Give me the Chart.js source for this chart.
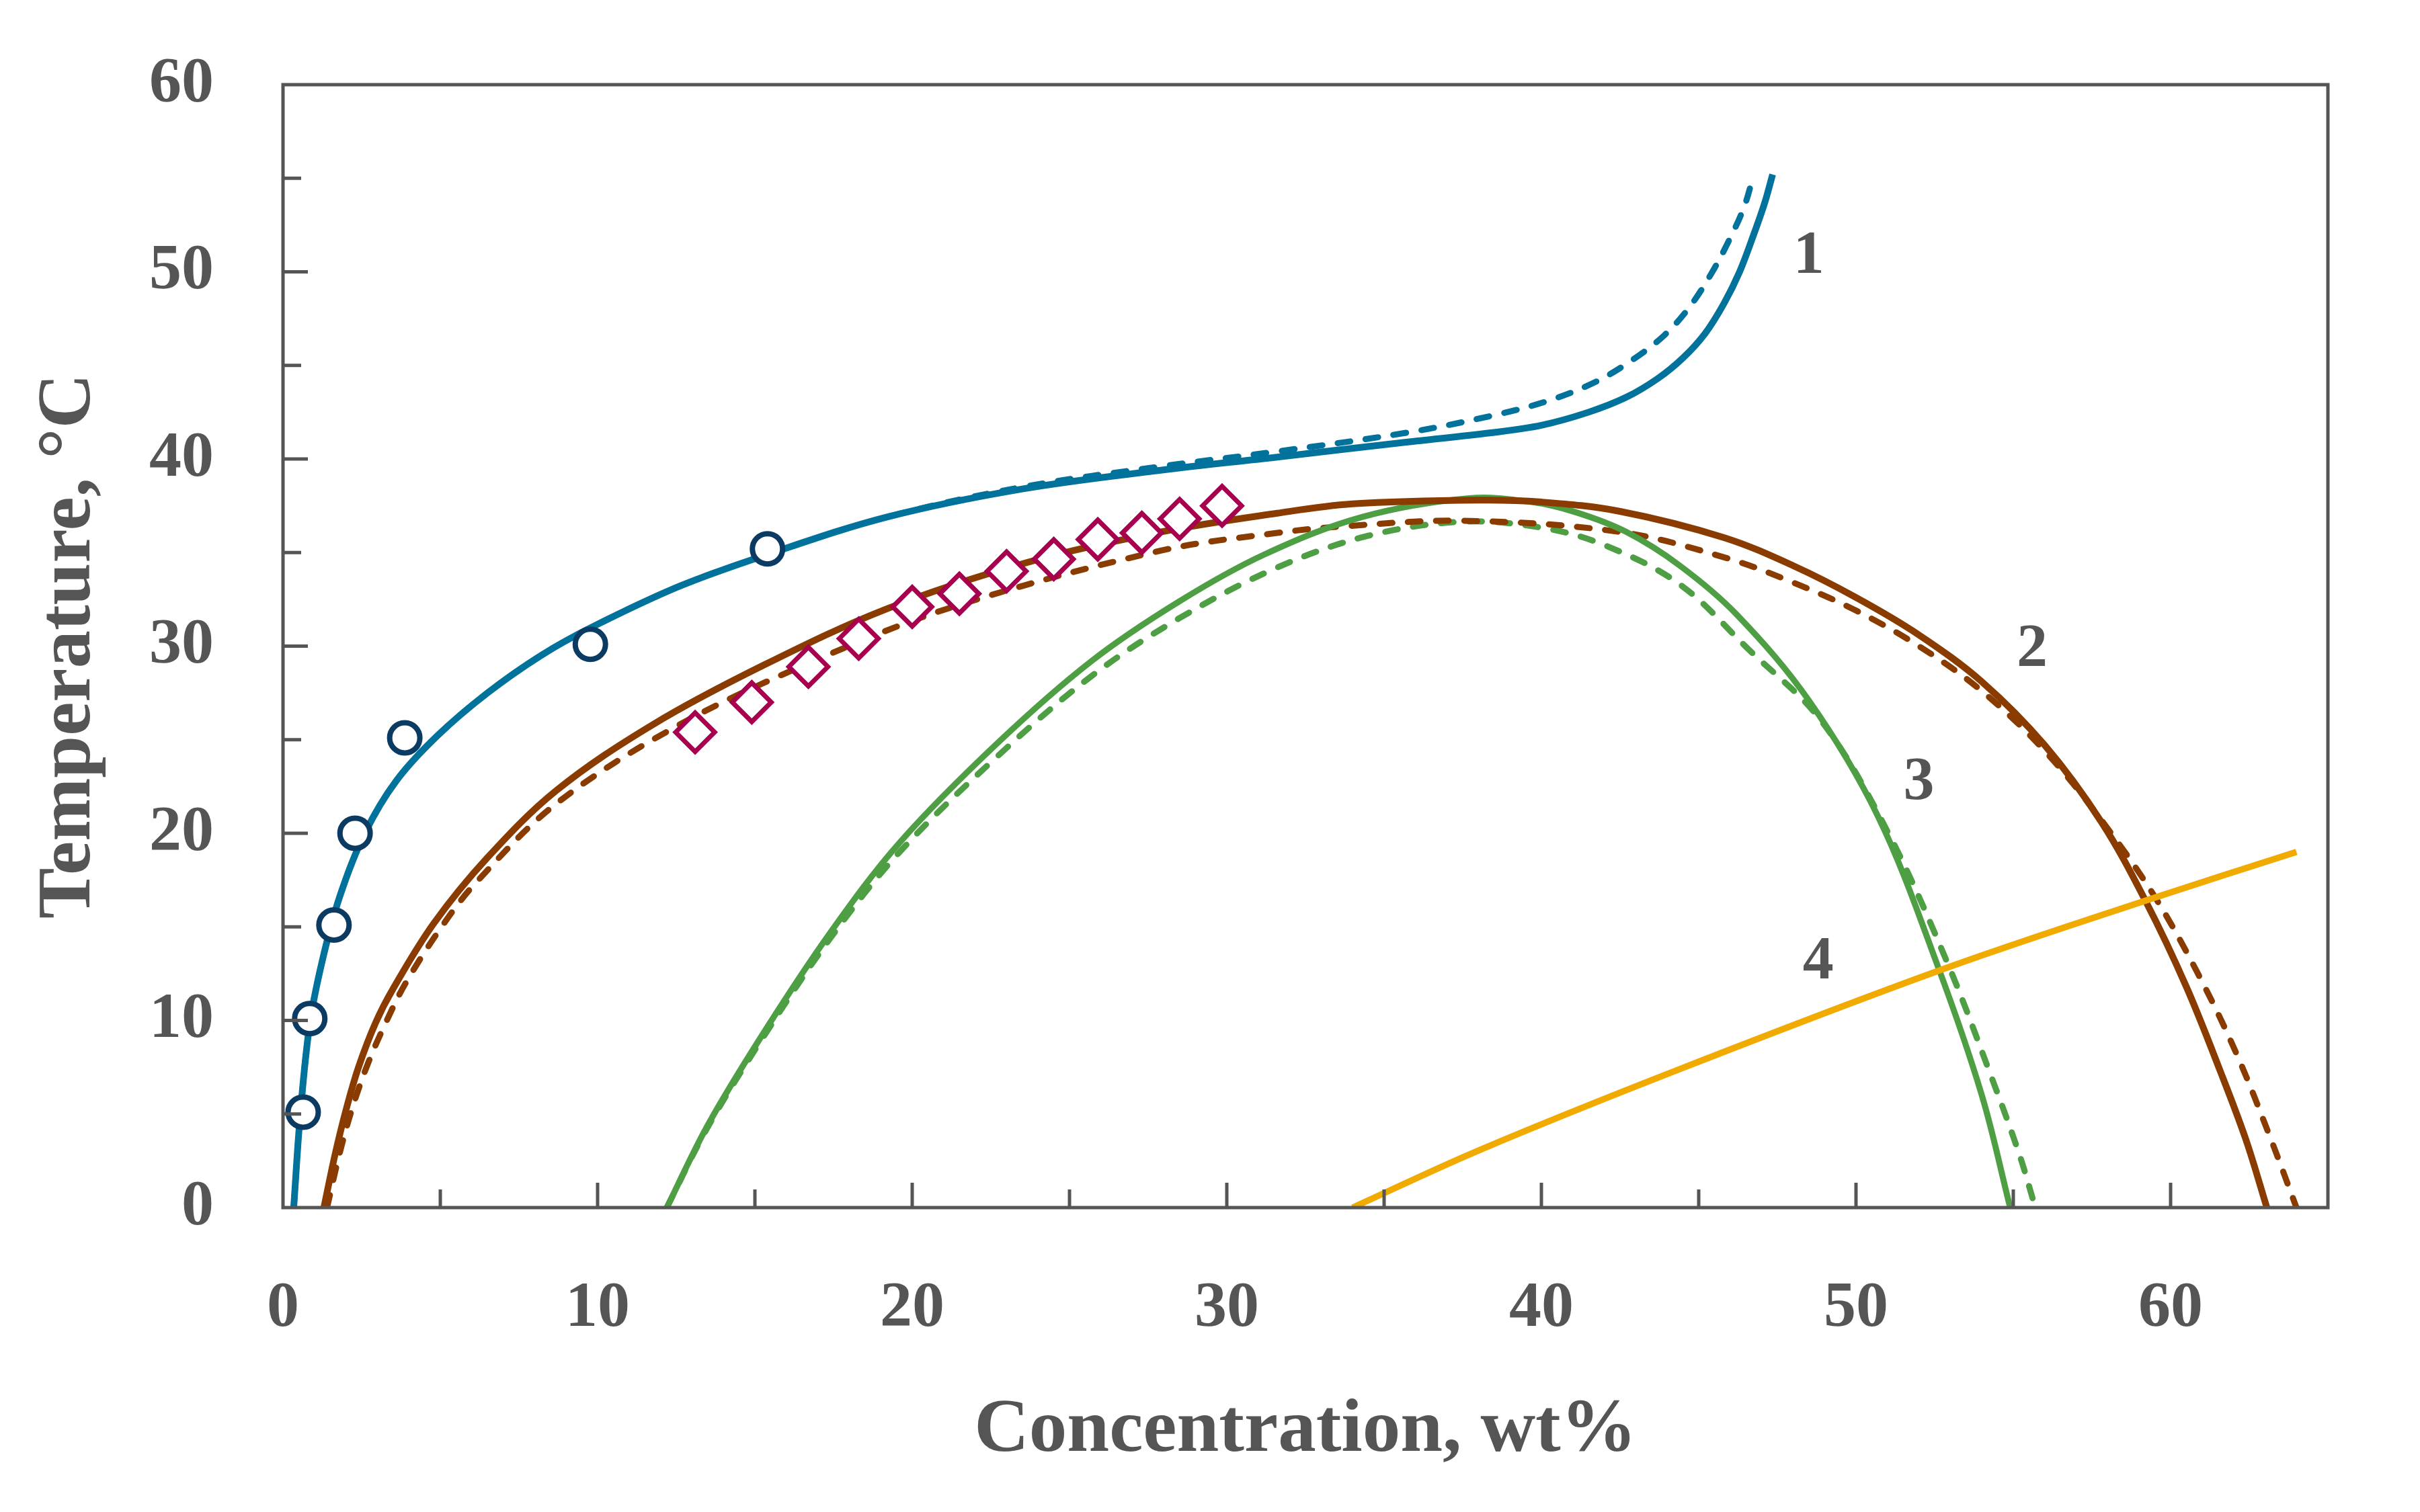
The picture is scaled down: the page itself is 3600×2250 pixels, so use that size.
<!DOCTYPE html>
<html>
<head>
<meta charset="utf-8">
<script src="https://cdn.jsdelivr.net/npm/chart.js@4.4.1/dist/chart.umd.min.js"></script>
<style>
  html, body { margin: 0; padding: 0; background: #fff; }
  canvas { display: block; }
</style>
</head>
<body>
<canvas id="chart" width="3600" height="2250"></canvas>
<script>
// 坐标轴刻度
const xTicks = [0, 10, 20, 30, 40, 50, 60];
const yTicks = [0, 10, 20, 30, 40, 50, 60];
const xTickMarks = [5, 10, 15, 20, 25, 30, 35, 40, 45, 50, 55, 60];
const yTickMarks = [5, 10, 15, 20, 25, 30, 35, 40, 45, 50, 55];

// 实验点
const circleX = [0.64, 0.85, 1.62, 2.29, 3.87, 9.77, 15.4];
const circleY = [5.1, 10.1, 15.1, 20.0, 25.1, 30.1, 35.2];
const diamondX = [13.1, 14.9, 16.7, 18.3, 20.0, 21.5, 23.0, 24.5, 25.9, 27.3, 28.5, 29.85];
const diamondY = [25.4, 27.0, 28.9, 30.4, 32.1, 32.8, 34.0, 34.65, 35.7, 36.05, 36.8, 37.5];

// 曲线 1
const curve1Solid = [[0.34,0],[0.55,5],[0.85,9.8],[1.25,13.2],[1.8,16.6],[2.6,20.0],[3.6,22.8],[4.9,25.2],[6.5,27.5],[8.2,29.5],[9.8,31.0],[12.6,33.2],[15.4,34.9],[19.2,36.9],[23.5,38.4],[27.9,39.4],[31.6,40.1],[35.7,40.9],[38.4,41.4],[40.0,41.8],[41.5,42.5],[42.7,43.3],[43.7,44.3],[44.5,45.4],[45.2,46.7],[45.8,48.3],[46.3,50.0],[46.75,52.0],[47.1,53.7],[47.35,55.2]];
const curve1Dash = [[0.34,0],[0.55,5],[0.85,9.8],[1.25,13.2],[1.8,16.6],[2.6,20.0],[3.6,22.8],[4.9,25.2],[6.5,27.5],[8.2,29.5],[9.8,31.0],[12.6,33.2],[15.4,34.9],[19.2,36.9],[23.5,38.5],[27.9,39.6],[31.6,40.4],[35.7,41.4],[38.4,42.3],[40.2,43.1],[41.7,44.1],[42.9,45.3],[43.9,46.6],[44.7,48.1],[45.4,49.9],[46.0,51.8],[46.45,53.5],[46.75,55.2]];
// 曲线 2
const curve2Solid = [[1.3,0],[1.65,2.8],[2.0,5.2],[2.4,7.5],[2.95,9.9],[3.5,11.7],[4.8,15.2],[6.5,18.7],[8.7,22.3],[11.75,25.8],[15.3,29.0],[19.2,32.0],[23.5,34.4],[27.9,36.1],[31.6,37.1],[34.0,37.6],[38.0,37.8],[40.0,37.7],[42.5,37.2],[45.8,35.8],[48.0,34.3],[50.0,32.6],[52.0,30.6],[54.0,28.1],[56.0,24.7],[57.8,20.6],[59.2,16.4],[60.5,11.8],[61.6,7.2],[62.4,3.6],[63.06,0]];
const curve2Dash = [[1.4,0],[1.8,2.9],[2.2,5.3],[2.7,7.7],[3.3,10.0],[3.9,12.0],[5.0,14.9],[6.1,17.3],[8.7,21.6],[12.6,25.8],[17.0,29.3],[21.3,32.1],[27.9,35.1],[31.6,36.05],[33.7,36.4],[37.5,36.7],[42.5,36.1],[45.9,34.7],[48.0,33.4],[50.0,31.9],[52.0,30.0],[54.0,27.6],[56.0,24.4],[57.8,20.7],[59.5,16.6],[60.9,12.4],[62.1,8.2],[63.2,3.6],[64.0,0]];
// 曲线 3
const curve3Solid = [[12.2,0],[13.5,4.4],[15.3,9.4],[17.4,14.7],[19.6,19.5],[22.7,24.8],[25.7,29.2],[28.5,32.4],[31.2,34.9],[34.3,36.9],[37.7,37.9],[39.7,37.7],[41.1,37.15],[42.7,36.1],[44.4,34.3],[46.2,31.7],[48.5,27.1],[50.7,20.9],[52.6,12.9],[54.0,6.0],[54.9,0]];
const curve3Dash = [[12.2,0],[13.5,4.3],[15.3,9.2],[17.4,14.4],[19.6,19.0],[22.7,24.1],[25.7,28.4],[28.5,31.5],[31.6,34.2],[34.5,35.9],[37.5,36.65],[40.0,36.33],[42.0,35.4],[44.4,33.3],[46.6,29.8],[48.9,26.0],[51.0,20.1],[52.9,13.1],[54.3,7.0],[55.2,2.8],[55.7,0]];
// 曲线 4
const curve4 = [[34.0,0],[38.0,3.05],[44.4,7.4],[52.7,12.7],[59.2,16.4],[64.0,19.0]];

// 曲线编号
const curveLabels = ['1', '2', '3', '4'];
const curveLabelX = [48.5, 55.6, 52.0, 48.8];
const curveLabelY = [50.8, 29.8, 22.7, 13.1];

const textColor = '#555555';
const fontFamily = '"Liberation Serif", "Times New Roman", serif';

function toPoints(arr) {
    return arr.map(p => ({ x: p[0], y: p[1] }));
}

function lineSet(arr, color, width, dashed) {
    return {
        data: toPoints(arr),
        showLine: true,
        borderColor: color,
        borderWidth: width,
        borderDash: dashed ? [19, 23] : [],
        borderCapStyle: dashed ? 'round' : 'butt',
        pointRadius: 0,
        tension: 0.35,
        fill: false
    };
}

// 边框和向内的刻度线
const framePlugin = {
    id: 'frame',
    afterDatasetsDraw(chart) {
        const ctx = chart.ctx;
        const area = chart.chartArea;
        const xs = chart.scales.x;
        const ys = chart.scales.y;
        ctx.save();
        ctx.strokeStyle = textColor;
        ctx.lineWidth = 5;
        ctx.lineCap = 'butt';
        xTickMarks.forEach(v => {
            const px = xs.getPixelForValue(v);
            const len = v % 10 === 0 ? 37 : 27;
            ctx.beginPath();
            ctx.moveTo(px, area.bottom);
            ctx.lineTo(px, area.bottom - len);
            ctx.stroke();
        });
        yTickMarks.forEach(v => {
            const py = ys.getPixelForValue(v);
            const len = v % 10 === 0 ? 37 : 27;
            ctx.beginPath();
            ctx.moveTo(area.left, py);
            ctx.lineTo(area.left + len, py);
            ctx.stroke();
        });
        ctx.strokeRect(area.left, area.top, area.right - area.left, area.bottom - area.top);

        // 曲线编号
        ctx.fillStyle = textColor;
        ctx.font = 'bold 92px ' + fontFamily;
        ctx.textAlign = 'center';
        ctx.textBaseline = 'middle';
        curveLabels.forEach((t, i) => {
            ctx.fillText(t, xs.getPixelForValue(curveLabelX[i]), ys.getPixelForValue(curveLabelY[i]));
        });
        ctx.restore();
    }
};

const ctx = document.getElementById('chart');
new Chart(ctx, {
    type: 'scatter',
    data: {
        datasets: [
            {
                data: circleX.map((x, i) => ({ x: x, y: circleY[i] })),
                pointStyle: 'circle',
                pointRadius: 22.5,
                pointBorderWidth: 8,
                pointBorderColor: '#0b3a62',
                pointBackgroundColor: '#ffffff',
                showLine: false
            },
            {
                data: diamondX.map((x, i) => ({ x: x, y: diamondY[i] })),
                pointStyle: 'rectRot',
                pointRadius: 29,
                pointBorderWidth: 7,
                pointBorderColor: '#a6004f',
                pointBackgroundColor: '#ffffff',
                showLine: false
            },
            lineSet(curve4, '#f0aa00', 9.5, false),
            lineSet(curve1Solid, '#00729b', 10, false),
            lineSet(curve2Solid, '#8a3b00', 10, false),
            lineSet(curve3Solid, '#4e9e44', 9, false),
            lineSet(curve1Dash, '#00729b', 9, true),
            lineSet(curve2Dash, '#8a3b00', 9, true),
            lineSet(curve3Dash, '#4e9e44', 9, true)
        ]
    },
    options: {
        responsive: false,
        animation: false,
        devicePixelRatio: 1,
        layout: { padding: { top: 126, right: 137, left: 0, bottom: 0 } },
        plugins: {
            legend: { display: false },
            tooltip: { enabled: false }
        },
        scales: {
            x: {
                type: 'linear',
                min: 0,
                max: 65,
                afterFit(scale) {
                    scale.height = 453;
                    scale.paddingLeft = 0;
                    scale.paddingRight = 0;
                },
                afterBuildTicks(scale) { scale.ticks = xTicks.map(v => ({ value: v })); },
                grid: { display: false, drawTicks: false },
                border: { display: false },
                ticks: {
                    color: textColor,
                    padding: 94,
                    maxRotation: 0,
                    font: { family: fontFamily, size: 96, weight: 'bold' }
                },
                title: {
                    display: true,
                    text: 'Concentration, wt%',
                    color: textColor,
                    padding: { top: 0, bottom: 52 },
                    font: { family: fontFamily, size: 113, weight: 'bold' }
                }
            },
            y: {
                type: 'linear',
                min: 0,
                max: 60,
                afterFit(scale) {
                    scale.width = 421;
                    scale.paddingTop = 0;
                    scale.paddingBottom = 0;
                },
                afterBuildTicks(scale) { scale.ticks = yTicks.map(v => ({ value: v })); },
                grid: { display: false, drawTicks: false },
                border: { display: false },
                ticks: {
                    color: textColor,
                    padding: 103,
                    font: { family: fontFamily, size: 96, weight: 'bold' }
                },
                title: {
                    display: true,
                    text: 'Temperature, °C',
                    color: textColor,
                    padding: { top: 36, bottom: 0 },
                    font: { family: fontFamily, size: 113, weight: 'bold' }
                }
            }
        }
    },
    plugins: [framePlugin]
});
</script>
</body>
</html>
